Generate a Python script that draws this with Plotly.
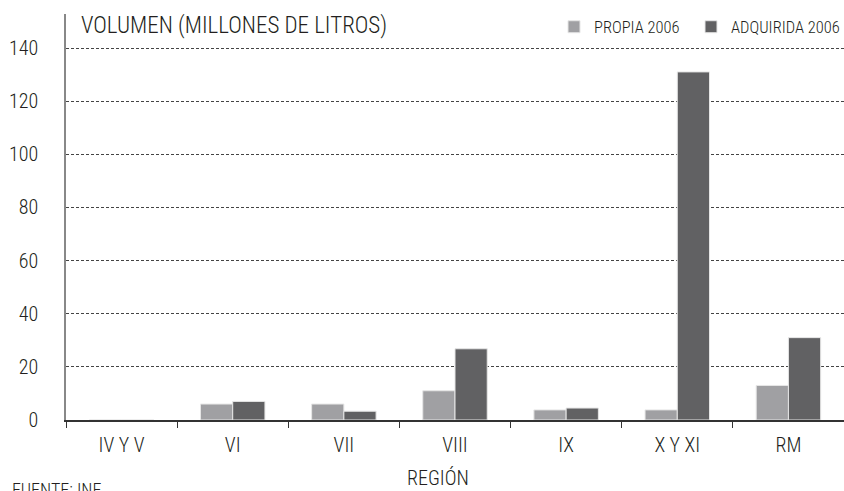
import plotly.graph_objects as go

categories = ["IV Y V", "VI", "VII", "VIII", "IX", "X Y XI", "RM"]
propia_2006 = [0, 6.0, 6.0, 11.0, 3.8, 3.8, 13.0]
adquirida_2006 = [0, 7.0, 3.3, 26.8, 4.5, 131.0, 31.0]
y_ticks = [0, 20, 40, 60, 80, 100, 120, 140]

FONT = "Roboto Condensed, Roboto, sans-serif"
TXT = "#231f20"
W = 300

fig = go.Figure()
fig.add_trace(go.Bar(name="PROPIA 2006", x=categories, y=propia_2006, legend="legend",
                     marker=dict(color="#a0a0a3", line=dict(color="#e6e6e6", width=1))))
fig.add_trace(go.Bar(name="ADQUIRIDA 2006", x=categories, y=adquirida_2006, legend="legend2",
                     marker=dict(color="#616163", line=dict(color="#e6e6e6", width=1))))

H = 491
top, bottom = 14, 71
ph = H - top - bottom
def py(p):
    return (H - bottom - p) / ph
def px(p):
    return (p - 66) / 778

leg_common = dict(orientation="h", xanchor="left", y=py(27), yanchor="middle",
                  font=dict(size=16.5, family=FONT, color=TXT, weight=W),
                  bgcolor="rgba(0,0,0,0)", itemwidth=30)

fig.update_layout(
    width=844, height=491,
    margin=dict(l=66, r=0, t=top, b=bottom, autoexpand=False),
    paper_bgcolor="white", plot_bgcolor="white",
    barmode="group", bargap=0.42, bargroupgap=0,
    font=dict(family=FONT, color=TXT, size=16, weight=W),
    showlegend=True,
    legend=dict(x=px(569 - 15), **leg_common),
    legend2=dict(x=px(706 - 15), **leg_common),
    xaxis=dict(showline=True, linecolor="#333333", linewidth=1.5,
               ticks="outside", tickson="boundaries", ticklen=6, tickcolor="#333333",
               tickfont=dict(size=20, weight=W), ticklabelstandoff=6, showgrid=False),
    yaxis=dict(range=[0, (H - bottom - top) / ((420 - 48) / 140)], tickvals=y_ticks,
               showline=True, linecolor="#888888", linewidth=1.5,
               showgrid=True, gridcolor="#444444", gridwidth=1, griddash="3px,2px",
               zeroline=False, ticks="", tickfont=dict(size=20, weight=W), ticklabelstandoff=22),
    annotations=[
        dict(text="VOLUMEN (MILLONES DE LITROS)", xref="paper", yref="paper",
             x=px(79), y=py(25), xanchor="left", yanchor="middle",
             showarrow=False, font=dict(size=23, family=FONT, color=TXT, weight=W)),
        dict(text="REGIÓN", xref="paper", yref="paper", x=px(438), y=py(478),
             xanchor="center", yanchor="middle", showarrow=False,
             font=dict(size=20, family=FONT, color=TXT, weight=W)),
        dict(text="FUENTE: INE", xref="paper", yref="paper", x=px(10), y=py(477),
             xanchor="left", yanchor="top", showarrow=False,
             font=dict(size=18, family=FONT, color=TXT, weight=W)),
    ],
)
fig.write_html("out.html", config={"displayModeBar": False},
               post_script="document.body.style.margin='0';document.body.style.overflow='hidden';")
